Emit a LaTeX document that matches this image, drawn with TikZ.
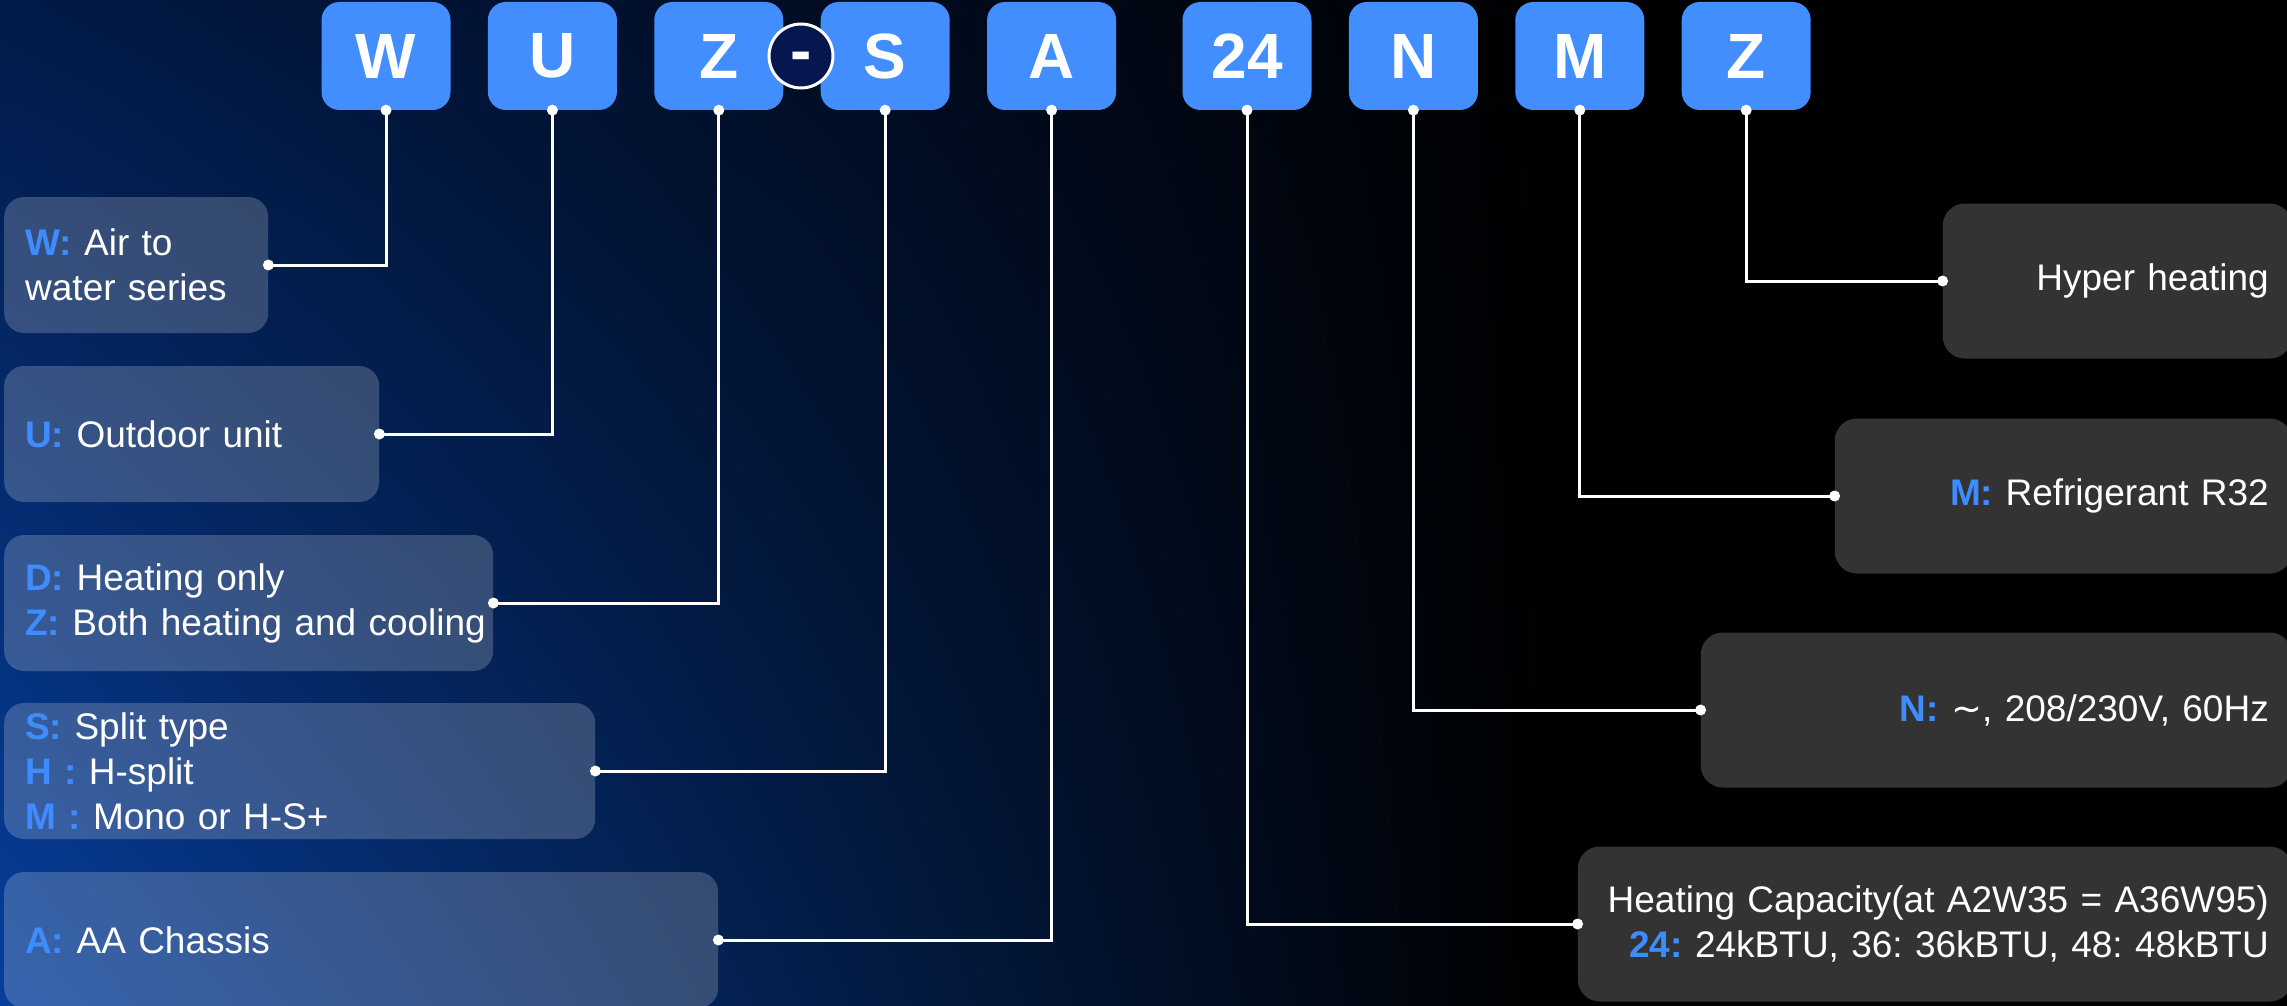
\documentclass[tikz,border=0pt]{standalone}
\usepackage{fontspec}
\setmainfont{Liberation Sans}
\newfontfamily\tildefont{DejaVu Sans}
\usetikzlibrary{positioning,shadings}
\frenchspacing

\definecolor{bgtop}{HTML}{021A48}
\definecolor{bgbottom}{HTML}{073F9C}
\definecolor{codeblue}{HTML}{428EFF}
\definecolor{keyblue}{HTML}{3F8CFF}
\definecolor{boxgrey}{HTML}{333333}
\definecolor{dashnavy}{HTML}{06174F}

\newcommand{\codekey}[1]{\textcolor{keyblue}{\bfseries #1}}

\begin{document}
\begin{tikzpicture}[
  x=1pt, y=-1pt,
  codebox/.style={fill=codeblue, rounded corners=18pt, minimum width=129pt, minimum height=108pt, inner sep=0pt, text=white, font=\fontsize{64pt}{64pt}\selectfont\bfseries},
  leftbox/.style={fill=white, fill opacity=0.2, text opacity=1, rounded corners=20pt, minimum height=136pt, inner xsep=21pt, anchor=west, align=left, text=white, font=\fontsize{37pt}{45pt}\selectfont},
  rightbox/.style={fill=boxgrey, rounded corners=22pt, minimum height=155pt, inner xsep=23pt, anchor=east, align=right, text=white, font=\fontsize{37pt}{45pt}\selectfont},
  link/.style={draw=white, line width=3pt},
  dot/.style={fill=white},
  node distance=37pt
]
\useasboundingbox (0,0) rectangle (2287,1006);
% background
\fill[black] (0,0) rectangle (2287,1006);
\shade[upper left=bgtop, lower left=bgbottom, upper right=black, lower right=black] (0,0) rectangle (1550,1006);

% model code
\node[codebox] (codeW) at (386,56) {W};
\node[codebox, right=of codeW] (codeU) {U};
\node[codebox, right=of codeU] (codeZ) {Z};
\node[codebox, right=of codeZ] (codeS) {S};
\node[codebox, right=of codeS] (codeA) {A};
\node[codebox, right=66pt of codeA] (code24) {24};
\node[codebox, right=of code24] (codeN) {N};
\node[codebox, right=of codeN] (codeM) {M};
\node[codebox, right=of codeM] (codeH) {Z};
\node[circle, fill=dashnavy, draw=white, line width=3pt, minimum size=64pt, inner sep=0pt, text height=34pt, text depth=0pt, text=white, font=\fontsize{64pt}{64pt}\selectfont\bfseries] (dash) at (801,56) {-};

% left descriptions
\node[leftbox, text width=222pt] (descW) at (4,265) {\codekey{W:} Air to\\water series};
\node[leftbox, text width=333pt] (descU) at (4,434) {\codekey{U:} Outdoor unit};
\node[leftbox, text width=447pt] (descZ) at (4,603) {\codekey{D:} Heating only\\\mbox{\codekey{Z:} Both heating and cooling}};
\node[leftbox, text width=549pt] (descS) at (4,771) {\codekey{S:} Split type\\\codekey{H :} H-split\\\codekey{M :} Mono or H-S+};
\node[leftbox, text width=672pt] (descA) at (4,940) {\codekey{A:} AA Chassis};

% right descriptions
\node[rightbox, text width=303pt] (descH) at (2292,281) {Hyper heating};
\node[rightbox, text width=411pt] (descM) at (2292,496) {\codekey{M:} Refrigerant R32};
\node[rightbox, text width=545pt] (descN) at (2292,710) {\codekey{N:} {\tildefont ∼}, 208/230V, 60Hz};
\node[rightbox, text width=668pt] (desc24) at (2292,924) {Heating Capacity(at A2W35 = A36W95)\\\codekey{24:} 24kBTU, 36: 36kBTU, 48: 48kBTU};

% connectors
\draw[link] (codeW.south) |- (descW.east);
\draw[link] (codeU.south) |- (descU.east);
\draw[link] (codeZ.south) |- (descZ.east);
\draw[link] (codeS.south) |- (descS.east);
\draw[link] (codeA.south) |- (descA.east);
\draw[link] (code24.south) |- (desc24.west);
\draw[link] (codeN.south) |- (descN.west);
\draw[link] (codeM.south) |- (descM.west);
\draw[link] (codeH.south) |- (descH.west);
\fill[dot] (codeW.south) circle[radius=5.5pt] (descW.east) circle[radius=5.5pt];
\fill[dot] (codeU.south) circle[radius=5.5pt] (descU.east) circle[radius=5.5pt];
\fill[dot] (codeZ.south) circle[radius=5.5pt] (descZ.east) circle[radius=5.5pt];
\fill[dot] (codeS.south) circle[radius=5.5pt] (descS.east) circle[radius=5.5pt];
\fill[dot] (codeA.south) circle[radius=5.5pt] (descA.east) circle[radius=5.5pt];
\fill[dot] (code24.south) circle[radius=5.5pt] (desc24.west) circle[radius=5.5pt];
\fill[dot] (codeN.south) circle[radius=5.5pt] (descN.west) circle[radius=5.5pt];
\fill[dot] (codeM.south) circle[radius=5.5pt] (descM.west) circle[radius=5.5pt];
\fill[dot] (codeH.south) circle[radius=5.5pt] (descH.west) circle[radius=5.5pt];
\end{tikzpicture}
\end{document}
